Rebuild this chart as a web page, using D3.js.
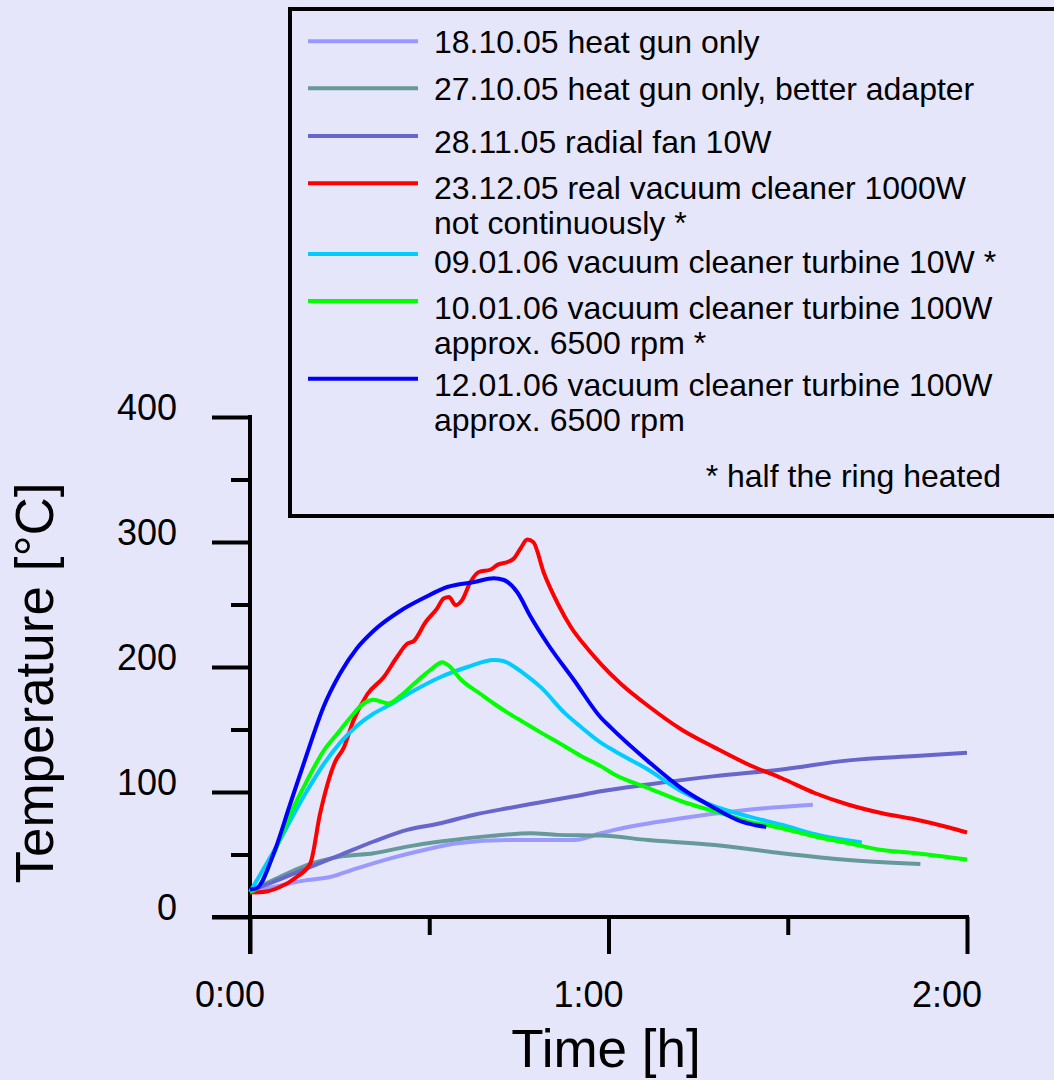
<!DOCTYPE html>
<html>
<head>
<meta charset="utf-8">
<script src="https://cdn.jsdelivr.net/npm/d3@7"></script>
<style>
  html, body { margin: 0; padding: 0; background: #e6e6fa; }
  svg { display: block; font-family: "Liberation Sans", Arial, sans-serif; }
</style>
</head>
<body>
<svg id="svg"></svg>
<script>
// time in minutes, temperature in °C
var heatGun = [[0,20],[3.9,24],[9.5,29.5],[13.4,32],[17.9,38.9],[23.5,46.9],[29.1,53.6],[34.7,59],
  [43.1,61.6],[54.3,61.6],[58.7,67],[61,69.7],[72.2,79],[83.4,85.8],[94.2,89.8]];
var heatGunAdapter = [[0,21],[3.9,29.5],[9.5,41.5],[15.1,48.3],[20.7,51],[26.3,56.3],[31.9,60.4],
  [40.3,64.9],[47,67],[51.5,65.7],[58.7,65.2],[66.6,61.6],[77.8,57.6],[89,51],[100.2,45.6],[112.2,42.4]];
var radialFan = [[0,21],[3.9,28],[9.5,38.9],[15.1,49.6],[20.7,60.4],[26.3,69.7],[31.9,75],[37.5,81.8],
  [43.1,87],[48.7,91.8],[54.3,96.6],[58.7,100.6],[66.6,106],[77.8,112.7],[89,118],[100.2,125.3],
  [111.4,128.8],[120,131.4]];
var vacuum1000 = [[0,19.6],[2.2,20],[5,24],[7.8,32],[10.1,43],[11.7,82],[14.3,124.7],[15.7,135.5],
  [17.3,157],[19.6,178],[22.4,192],[24.6,208],[26.3,218.6],[27.4,220.7],[29.4,236],[31.3,246.7],
  [32.4,254.8],[33.3,256],[34.4,249.5],[35.5,253.5],[36.9,268],[38.3,276],[40.3,278],[41.4,281.7],
  [43.1,284],[44.2,287],[45.3,295],[46.4,302],[47.4,300],[49.2,275],[51.5,250.8],[53.7,232],
  [56.5,214.6],[58.7,202.5],[62.1,186.4],[66.6,169],[72.2,150],[77.8,135.5],[83.4,122],[89,111],
  [94.6,99],[100.2,89.8],[105.8,83],[111.4,78],[117,71.6],[120,67.6]];
var turbine10 = [[0,20],[3.9,52],[9.5,100.6],[12.3,122],[15.1,139.5],[17.9,153],[20.7,162.8],[23.5,170],
  [27.4,181],[31.9,192],[36.4,200],[40.8,205.7],[42.5,204.6],[45.9,194.5],[48.7,183.7],[52.6,163.5],
  [55.4,152],[58.7,139.5],[61,132.8],[66.6,118],[72.2,100.6],[77.8,88.5],[83.4,80.5],[89,73.8],
  [94.6,66.2],[102.4,59.6]];
var turbine100a = [[0,20],[1.7,25.5],[3.9,49.6],[6.7,81.8],[9.5,108.7],[12.3,132.8],[14.5,146],
  [16.8,159.6],[19,170.8],[20.7,173.8],[23.2,170.8],[25.2,177],[27.4,186.4],[30.2,197.7],[32.2,203.9],
  [33.3,201],[35.2,190.4],[38.6,178.4],[40.8,170.8],[43.1,163.5],[45.9,155.5],[48.7,147.5],
  [52.6,136.8],[55.4,128.8],[58.7,120.7],[61,114],[66.6,103.3],[72.2,92.6],[77.8,84.5],[83.4,76.5],
  [89,71],[94.6,64.4],[100.2,59],[105.8,53.6],[111.4,51],[120,46]];
var turbine100b = [[0,22],[1.1,23],[3.9,50],[6.7,90],[9.5,130],[12.3,168],[15.1,195],[17.9,215],
  [20.7,229],[25.2,245],[29,255],[33,264],[37.5,268],[40.8,271],[42.5,269.6],[44.7,260],[47,240],
  [49.8,218.6],[54.3,189],[58.7,159.6],[60.4,151.5],[66.6,124.7],[72.2,103],[77.8,87],[82.2,76.5],
  [86.4,72]];

var seriesData = [heatGun, heatGunAdapter, radialFan, vacuum1000, turbine10, turbine100a, turbine100b];
var seriesColors = ['#9999ff', '#669999', '#6666cc', '#ff0000', '#00ccff', '#00ff00', '#0000ff'];
var seriesLabels = [
  ['18.10.05 heat gun only'],
  ['27.10.05 heat gun only, better adapter'],
  ['28.11.05 radial fan 10W'],
  ['23.12.05 real vacuum cleaner 1000W', 'not continuously *'],
  ['09.01.06 vacuum cleaner turbine 10W *'],
  ['10.01.06 vacuum cleaner turbine 100W', 'approx. 6500 rpm *'],
  ['12.01.06 vacuum cleaner turbine 100W', 'approx. 6500 rpm']
];
var footnote = '* half the ring heated';

var yMajor = [0, 100, 200, 300, 400];
var yMinor = [50, 150, 250, 350];
var xMajor = [0, 60, 120];
var xMinor = [30, 90];
var xTickLabels = ['0:00', '1:00', '2:00'];

var width = 1054, height = 1080;
var s = d3.select('#svg').attr('width', width).attr('height', height);
s.append('rect').attr('width', width).attr('height', height).attr('fill', '#e6e6fa');

var x = d3.scaleLinear().domain([0, 120]).range([250, 967]);
var y = d3.scaleLinear().domain([0, 400]).range([917, 417]);

// axes
var yAxisMajor = d3.axisLeft(y).tickValues(yMajor).tickSize(38).tickSizeOuter(0).tickPadding(35);
var yAxisMinor = d3.axisLeft(y).tickValues(yMinor).tickSize(19).tickSizeOuter(0).tickFormat('');
var xAxisMajor = d3.axisBottom(x).tickValues(xMajor).tickSize(37).tickSizeOuter(0).tickFormat('');
var xAxisMinor = d3.axisBottom(x).tickValues(xMinor).tickSize(18).tickSizeOuter(0).tickFormat('');

function styleAxis(g) {
  g.select('.domain').remove();
  g.selectAll('.tick line').attr('stroke', '#000').attr('stroke-width', 4);
}

var gy = s.append('g').attr('transform', 'translate(250,0)').call(yAxisMajor).call(styleAxis);
gy.selectAll('.tick text').attr('font-size', 36).attr('fill', '#000')
  .attr('font-family', '"Liberation Sans", Arial, sans-serif').attr('dy', '0.08em');
s.append('g').attr('transform', 'translate(250,0)').call(yAxisMinor).call(styleAxis);
s.append('g').attr('transform', 'translate(0,917)').call(xAxisMajor).call(styleAxis);
s.append('g').attr('transform', 'translate(0,917)').call(xAxisMinor).call(styleAxis);

s.append('line').attr('x1', 250).attr('x2', 250).attr('y1', y(400) - 2).attr('y2', 954)
  .attr('stroke', '#000').attr('stroke-width', 4);
s.append('line').attr('x1', 212).attr('x2', x(120) + 2).attr('y1', 917).attr('y2', 917)
  .attr('stroke', '#000').attr('stroke-width', 4);

s.selectAll('text.xlab')
  .data(xMajor)
  .enter()
  .append('text')
  .attr('class', 'xlab')
  .attr('x', function (d) { return x(d) - 20; })
  .attr('y', 1007)
  .attr('text-anchor', 'middle')
  .attr('font-size', 36)
  .text(function (d, i) { return xTickLabels[i]; });

// axis titles
s.append('text')
  .attr('x', 606).attr('y', 1067)
  .attr('text-anchor', 'middle')
  .attr('font-size', 53)
  .text('Time [h]');
s.append('text')
  .attr('transform', 'translate(53,683) rotate(-90)')
  .attr('text-anchor', 'middle')
  .attr('font-size', 53)
  .text('Temperature [°C]');

// lines
var line = d3.line()
  .curve(d3.curveMonotoneX)
  .x(function (d) { return x(d[0]); })
  .y(function (d) { return y(d[1]); });

s.selectAll('path.series')
  .data(seriesData)
  .enter()
  .append('path')
  .attr('class', 'series')
  .attr('fill', 'none')
  .attr('stroke', function (d, i) { return seriesColors[i]; })
  .attr('stroke-width', 4)
  .attr('stroke-linejoin', 'round')
  .attr('d', line);

// legend
var lg = s.append('g');
lg.append('rect')
  .attr('x', 290).attr('y', 9).attr('width', 900).attr('height', 507)
  .attr('fill', '#e6e6fa').attr('stroke', '#000').attr('stroke-width', 4);

var legendLineY = [41.3, 88.3, 136, 183.3, 254, 301, 378.7];
var legendTextY = [53, 100, 153, 199, 273, 319, 395.5];

seriesLabels.forEach(function (lab, i) {
  lg.append('line')
    .attr('x1', 308).attr('x2', 418)
    .attr('y1', legendLineY[i]).attr('y2', legendLineY[i])
    .attr('stroke', seriesColors[i]).attr('stroke-width', 4);
  lab.forEach(function (t, j) {
    lg.append('text')
      .attr('x', 434).attr('y', legendTextY[i] + j * 35)
      .attr('font-size', 32)
      .text(t);
  });
});
lg.append('text')
  .attr('x', 1001).attr('y', 487)
  .attr('text-anchor', 'end')
  .attr('font-size', 32)
  .text(footnote);
</script>
</body>
</html>
